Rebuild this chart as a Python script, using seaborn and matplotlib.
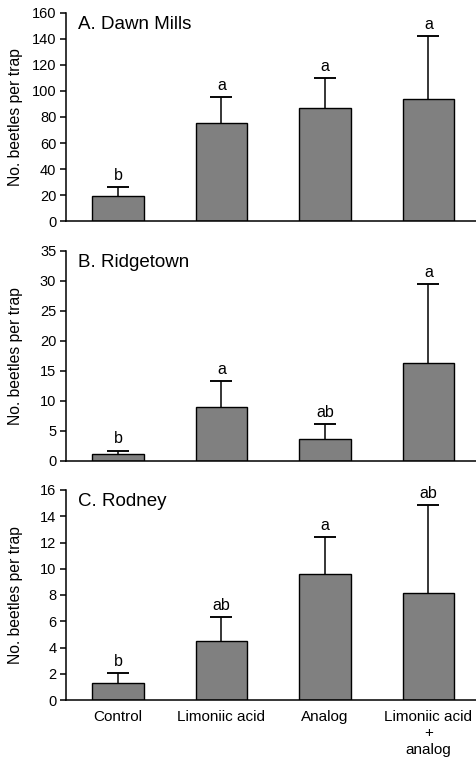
import matplotlib
matplotlib.use("Agg")
import matplotlib.pyplot as plt
import seaborn as sns
import pandas as pd
import numpy as np

categories = ["Control", "Limoniic acid", "Analog", "Limoniic acid\n+\nanalog"]

panel_titles = ["A. Dawn Mills", "B. Ridgetown", "C. Rodney"]

dawn_means = [19.3, 75.6, 87.1, 93.8]
dawn_err_top = [26.5, 95.1, 109.7, 142.3]
dawn_letters = ["b", "a", "a", "a"]

ridge_means = [1.05, 8.9, 3.7, 16.3]
ridge_err_top = [1.7, 13.3, 6.05, 29.4]
ridge_letters = ["b", "a", "ab", "a"]

rodney_means = [1.3, 4.5, 9.58, 8.13]
rodney_err_top = [2.03, 6.3, 12.4, 14.86]
rodney_letters = ["b", "ab", "a", "ab"]

y_limits = [(0, 160), (0, 35), (0, 16)]
y_ticks = [list(range(0, 161, 20)), list(range(0, 36, 5)), list(range(0, 17, 2))]

sns.set_style("ticks")
plt.rcParams["font.family"] = ["Liberation Sans", "DejaVu Sans"]
plt.rcParams["axes.linewidth"] = 1.1
plt.rcParams["text.color"] = "black"
plt.rcParams["axes.labelcolor"] = "black"
plt.rcParams["xtick.color"] = "black"
plt.rcParams["ytick.color"] = "black"
plt.rcParams["axes.edgecolor"] = "black"

W, H = 476, 759
fig = plt.figure(figsize=(W / 100, H / 100), dpi=100)

panels = [
    (dawn_means, dawn_err_top, dawn_letters),
    (ridge_means, ridge_err_top, ridge_letters),
    (rodney_means, rodney_err_top, rodney_letters),
]
tops = [12.7, 250.7, 490.0]
bottoms = [221.3, 460.7, 700.0]
left_px, right_px = 66, 476

for i, ((means, errtop, letters), t, b) in enumerate(zip(panels, tops, bottoms)):
    ax = fig.add_axes([left_px / W, 1 - b / H, (right_px - left_px) / W, (b - t) / H])
    df = pd.DataFrame({"treatment": categories, "mean": means})
    sns.barplot(data=df, x="treatment", y="mean", order=categories, color="#808080",
                saturation=1, width=0.5, edgecolor="black", linewidth=1.0,
                errorbar=None, ax=ax, zorder=2)
    xs = np.arange(len(categories))
    means_a = np.array(means)
    top_a = np.array(errtop)
    upper = top_a - means_a
    ax.errorbar(xs, means_a, yerr=[np.zeros_like(upper), upper], fmt="none",
                ecolor="black", elinewidth=1.1, capsize=0, zorder=1)
    ax.errorbar(xs, top_a, yerr=np.zeros_like(upper), fmt="none",
                ecolor="black", elinewidth=1.1, capsize=7.9, capthick=1.1, zorder=1)
    for x, top, lab in zip(xs, errtop, letters):
        ax.annotate(lab, (x, top), xytext=(0, 3), textcoords="offset points",
                    ha="center", va="bottom", fontsize=11.5)
    ax.set_xlim(-0.503, 3.46)
    ax.set_ylim(*y_limits[i])
    ax.set_yticks(y_ticks[i])
    ax.set_ylabel("No. beetles per trap", fontsize=11.3)
    ax.yaxis.set_label_coords((23 - left_px) / (right_px - left_px), 0.5)
    ax.set_xlabel("")
    sns.despine(ax=ax)
    ax.tick_params(axis="y", direction="out", length=4, width=1.1, labelsize=10.5, pad=3)
    ax.tick_params(axis="x", length=0, labelsize=11, pad=7)
    if i < 2:
        ax.set_xticklabels([])
    else:
        ax.set_xticklabels(categories, linespacing=1.24, va="top")
    ax.text(0.03, 0.985, panel_titles[i], transform=ax.transAxes, ha="left", va="top",
            fontsize=13.5)

fig.savefig("out.png", dpi=100)
